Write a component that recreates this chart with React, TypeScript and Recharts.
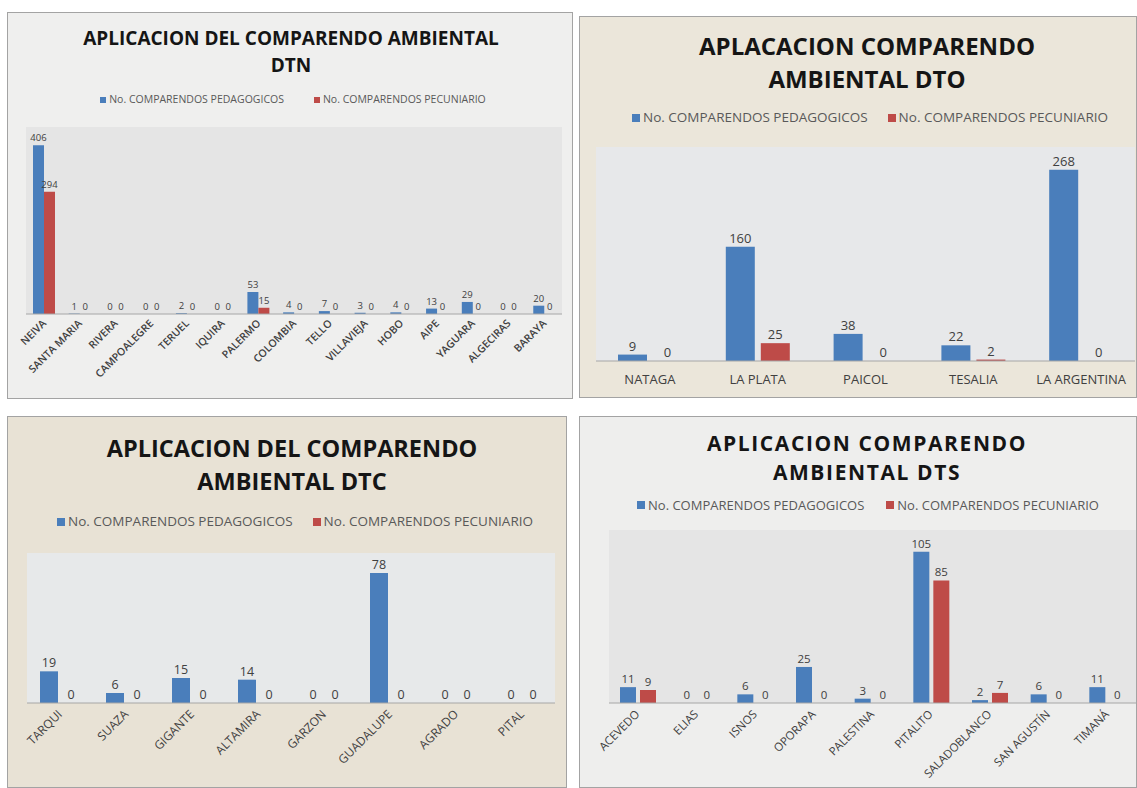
import React from 'react';
import { BarChart, Bar, XAxis, YAxis, CartesianGrid, LabelList, Legend } from 'recharts';

const SERIES_PED = 'No. COMPARENDOS PEDAGOGICOS';
const SERIES_PEC = 'No. COMPARENDOS PECUNIARIO';

const DTN_CATEGORIES = ['NEIVA', 'SANTA MARIA', 'RIVERA', 'CAMPOALEGRE', 'TERUEL', 'IQUIRA', 'PALERMO', 'COLOMBIA', 'TELLO', 'VILLAVIEJA', 'HOBO', 'AIPE', 'YAGUARA', 'ALGECIRAS', 'BARAYA'];
const DTN_PEDAGOGICOS = [406, 1, 0, 0, 2, 0, 53, 4, 7, 3, 4, 13, 29, 0, 20];
const DTN_PECUNIARIO = [294, 0, 0, 0, 0, 0, 15, 0, 0, 0, 0, 0, 0, 0, 0];

const DTO_CATEGORIES = ['NATAGA', 'LA PLATA', 'PAICOL', 'TESALIA', 'LA ARGENTINA'];
const DTO_PEDAGOGICOS = [9, 160, 38, 22, 268];
const DTO_PECUNIARIO = [0, 25, 0, 2, 0];

const DTC_CATEGORIES = ['TARQUI', 'SUAZA', 'GIGANTE', 'ALTAMIRA', 'GARZON', 'GUADALUPE', 'AGRADO', 'PITAL'];
const DTC_PEDAGOGICOS = [19, 6, 15, 14, 0, 78, 0, 0];
const DTC_PECUNIARIO = [0, 0, 0, 0, 0, 0, 0, 0];

const DTS_CATEGORIES = ['ACEVEDO', 'ELIAS', 'ISNOS', 'OPORAPA', 'PALESTINA', 'PITALITO', 'SALADOBLANCO', 'SAN AGUSTÍN', 'TIMANÁ'];
const DTS_PEDAGOGICOS = [11, 0, 6, 25, 3, 105, 2, 6, 11];
const DTS_PECUNIARIO = [9, 0, 0, 0, 0, 85, 7, 0, 0];

const BLUE = '#4a7ebb';
const RED = '#be4b48';
const FONT = '"Open Sans", "DejaVu Sans", sans-serif';

const build = (cats: string[], a: number[], b: number[]) =>
  cats.map((name, i) => ({ name, ped: a[i], pec: b[i] }));

type PanelCfg = {
  left: number; top: number; width: number; height: number;
  bg: string; plotBg: string;
  title: string[]; titleSize: number; titleY: number; titleLine: number; titleDx: number; titleSpacing: number;
  legendY: number; legendDx: number; legendSize: number; legendGap: number;
  margin: { top: number; right: number; bottom: number; left: number };
  axisHeight: number; max: number; barSize: number; barGap: number;
  labelSize: number; tickSize: number; tickWeight: number; rotate: boolean; tickDx: number; tickDy: number;
  data: { name: string; ped: number; pec: number }[];
};

const RotTick = (props: any) => {
  const { x, y, payload, fs, fw, dx, dy, rotate } = props;
  if (!rotate) {
    return (
      <text x={x} y={y + dy} textAnchor="middle" fontSize={fs} fontWeight={fw} fill="#404040" fontFamily={FONT}>
        {payload.value}
      </text>
    );
  }
  return (
    <g transform={`translate(${x + dx},${y + dy})`}>
      <text x={0} y={0} textAnchor="end" transform="rotate(-45)" fontSize={fs} fontWeight={fw} fill="#404040" fontFamily={FONT}>
        {payload.value}
      </text>
    </g>
  );
};

const Panel = ({ cfg }: { cfg: PanelCfg }) => {
  const sq = Math.round(cfg.legendSize * 0.6);
  const legendContent = () => (
    <div style={{ display: 'flex', justifyContent: 'center', alignItems: 'center', gap: cfg.legendGap, fontFamily: FONT, fontSize: cfg.legendSize, lineHeight: `${cfg.legendSize * 1.3}px`, color: '#595959', transform: `translateX(${cfg.legendDx}px)`, whiteSpace: 'nowrap' }}>
      <span style={{ display: 'flex', alignItems: 'center' }}>
        <span style={{ width: sq, height: sq, background: BLUE, display: 'inline-block', marginRight: 3 }} />
        {SERIES_PED}
      </span>
      <span style={{ display: 'flex', alignItems: 'center' }}>
        <span style={{ width: sq, height: sq, background: RED, display: 'inline-block', marginRight: 3 }} />
        {SERIES_PEC}
      </span>
    </div>
  );
  return (
    <div style={{ position: 'absolute', left: cfg.left, top: cfg.top, width: cfg.width, height: cfg.height, background: cfg.bg, border: '1px solid #a3a3a3', boxSizing: 'border-box', overflow: 'hidden' }}>
      <div style={{ position: 'absolute', left: cfg.titleDx, width: cfg.width, top: cfg.titleY - cfg.titleLine / 2, lineHeight: `${cfg.titleLine}px`, letterSpacing: cfg.titleSpacing, textAlign: 'center', fontFamily: FONT, fontWeight: 700, fontSize: cfg.titleSize, color: '#151515', whiteSpace: 'nowrap' }}>
        {cfg.title[0]}
        <br />
        {cfg.title[1]}
      </div>
      <div style={{ position: 'absolute', left: -1, top: -1 }}>
        <BarChart width={cfg.width} height={cfg.height} data={cfg.data} margin={cfg.margin} barGap={cfg.barGap}>
          <CartesianGrid horizontal={false} vertical={false} fill={cfg.plotBg} stroke="none" />
          <Legend verticalAlign="middle" layout="horizontal" align="center" content={legendContent}
            wrapperStyle={{ top: cfg.legendY - cfg.legendSize * 0.65, left: 0, width: cfg.width }} />
          <XAxis dataKey="name" interval={0} height={cfg.axisHeight} tickLine={false} tickSize={0} tickMargin={0} axisLine={{ stroke: '#a6a6a6' }}
            tick={<RotTick fs={cfg.tickSize} fw={cfg.tickWeight} dx={cfg.tickDx} dy={cfg.tickDy} rotate={cfg.rotate} />} />
          <YAxis hide domain={[0, cfg.max]} />
          <Bar dataKey="ped" name={SERIES_PED} fill={BLUE} barSize={cfg.barSize} minPointSize={0.01} isAnimationActive={false}>
            <LabelList dataKey="ped" position="top" offset={4} fontSize={cfg.labelSize} fill="#404040" fontFamily={FONT} />
          </Bar>
          <Bar dataKey="pec" name={SERIES_PEC} fill={RED} barSize={cfg.barSize} minPointSize={0.01} isAnimationActive={false}>
            <LabelList dataKey="pec" position="top" offset={4} fontSize={cfg.labelSize} fill="#404040" fontFamily={FONT} />
          </Bar>
        </BarChart>
      </div>
    </div>
  );
};

const PANELS: PanelCfg[] = [
  {
    left: 7, top: 12, width: 566, height: 387, bg: '#efefee', plotBg: '#e5e5e5',
    title: ['APLICACION DEL COMPARENDO AMBIENTAL', 'DTN'], titleSize: 19, titleY: 25, titleLine: 27, titleDx: 0, titleSpacing: 0,
    legendY: 88, legendDx: 3, legendSize: 10.5, legendGap: 30,
    margin: { top: 115, right: 11, bottom: 5, left: 19 }, axisHeight: 80, max: 450, barSize: 11, barGap: 0,
    labelSize: 9.5, tickSize: 10.5, tickWeight: 600, rotate: true, tickDx: 3, tickDy: 10,
    data: build(DTN_CATEGORIES, DTN_PEDAGOGICOS, DTN_PECUNIARIO),
  },
  {
    left: 579, top: 16, width: 558, height: 382, bg: '#ebe6da', plotBg: '#e7e8ea',
    title: ['APLACACION COMPARENDO', 'AMBIENTAL DTO'], titleSize: 24, titleY: 28, titleLine: 33, titleDx: 8, titleSpacing: 0,
    legendY: 102, legendDx: 12, legendSize: 13.5, legendGap: 20,
    margin: { top: 131, right: 2, bottom: 5, left: 17 }, axisHeight: 32, max: 300, barSize: 29, barGap: 6,
    labelSize: 13, tickSize: 13, tickWeight: 400, rotate: false, tickDx: 0, tickDy: 23,
    data: build(DTO_CATEGORIES, DTO_PEDAGOGICOS, DTO_PECUNIARIO),
  },
  {
    left: 7, top: 416, width: 560, height: 372, bg: '#e8e2d5', plotBg: '#e7e9ea',
    title: ['APLICACION DEL COMPARENDO', 'AMBIENTAL DTC'], titleSize: 23.5, titleY: 31, titleLine: 33, titleDx: 4, titleSpacing: 0,
    legendY: 106, legendDx: 8, legendSize: 13.5, legendGap: 20,
    margin: { top: 137, right: 12, bottom: 5, left: 20 }, axisHeight: 80, max: 90, barSize: 18, barGap: 4,
    labelSize: 12.5, tickSize: 12, tickWeight: 400, rotate: true, tickDx: 3, tickDy: 12,
    data: build(DTC_CATEGORIES, DTC_PEDAGOGICOS, DTC_PECUNIARIO),
  },
  {
    left: 579, top: 416, width: 558, height: 372, bg: '#eeeeed', plotBg: '#e5e5e5',
    title: ['APLICACION COMPARENDO', 'AMBIENTAL DTS'], titleSize: 21, titleY: 26, titleLine: 29, titleDx: 8, titleSpacing: 1.6,
    legendY: 89, legendDx: 10, legendSize: 13, legendGap: 22,
    margin: { top: 114, right: 0, bottom: 5, left: 30 }, axisHeight: 80, max: 120, barSize: 16, barGap: 4,
    labelSize: 11.5, tickSize: 11.5, tickWeight: 400, rotate: true, tickDx: 2, tickDy: 12,
    data: build(DTS_CATEGORIES, DTS_PEDAGOGICOS, DTS_PECUNIARIO),
  },
];

export default function App() {
  return (
    <div style={{ position: 'absolute', left: 0, top: 0, width: 1137, height: 788, background: '#ffffff', overflow: 'hidden' }}>
      {PANELS.map((p, i) => (
        <Panel key={i} cfg={p} />
      ))}
    </div>
  );
}
